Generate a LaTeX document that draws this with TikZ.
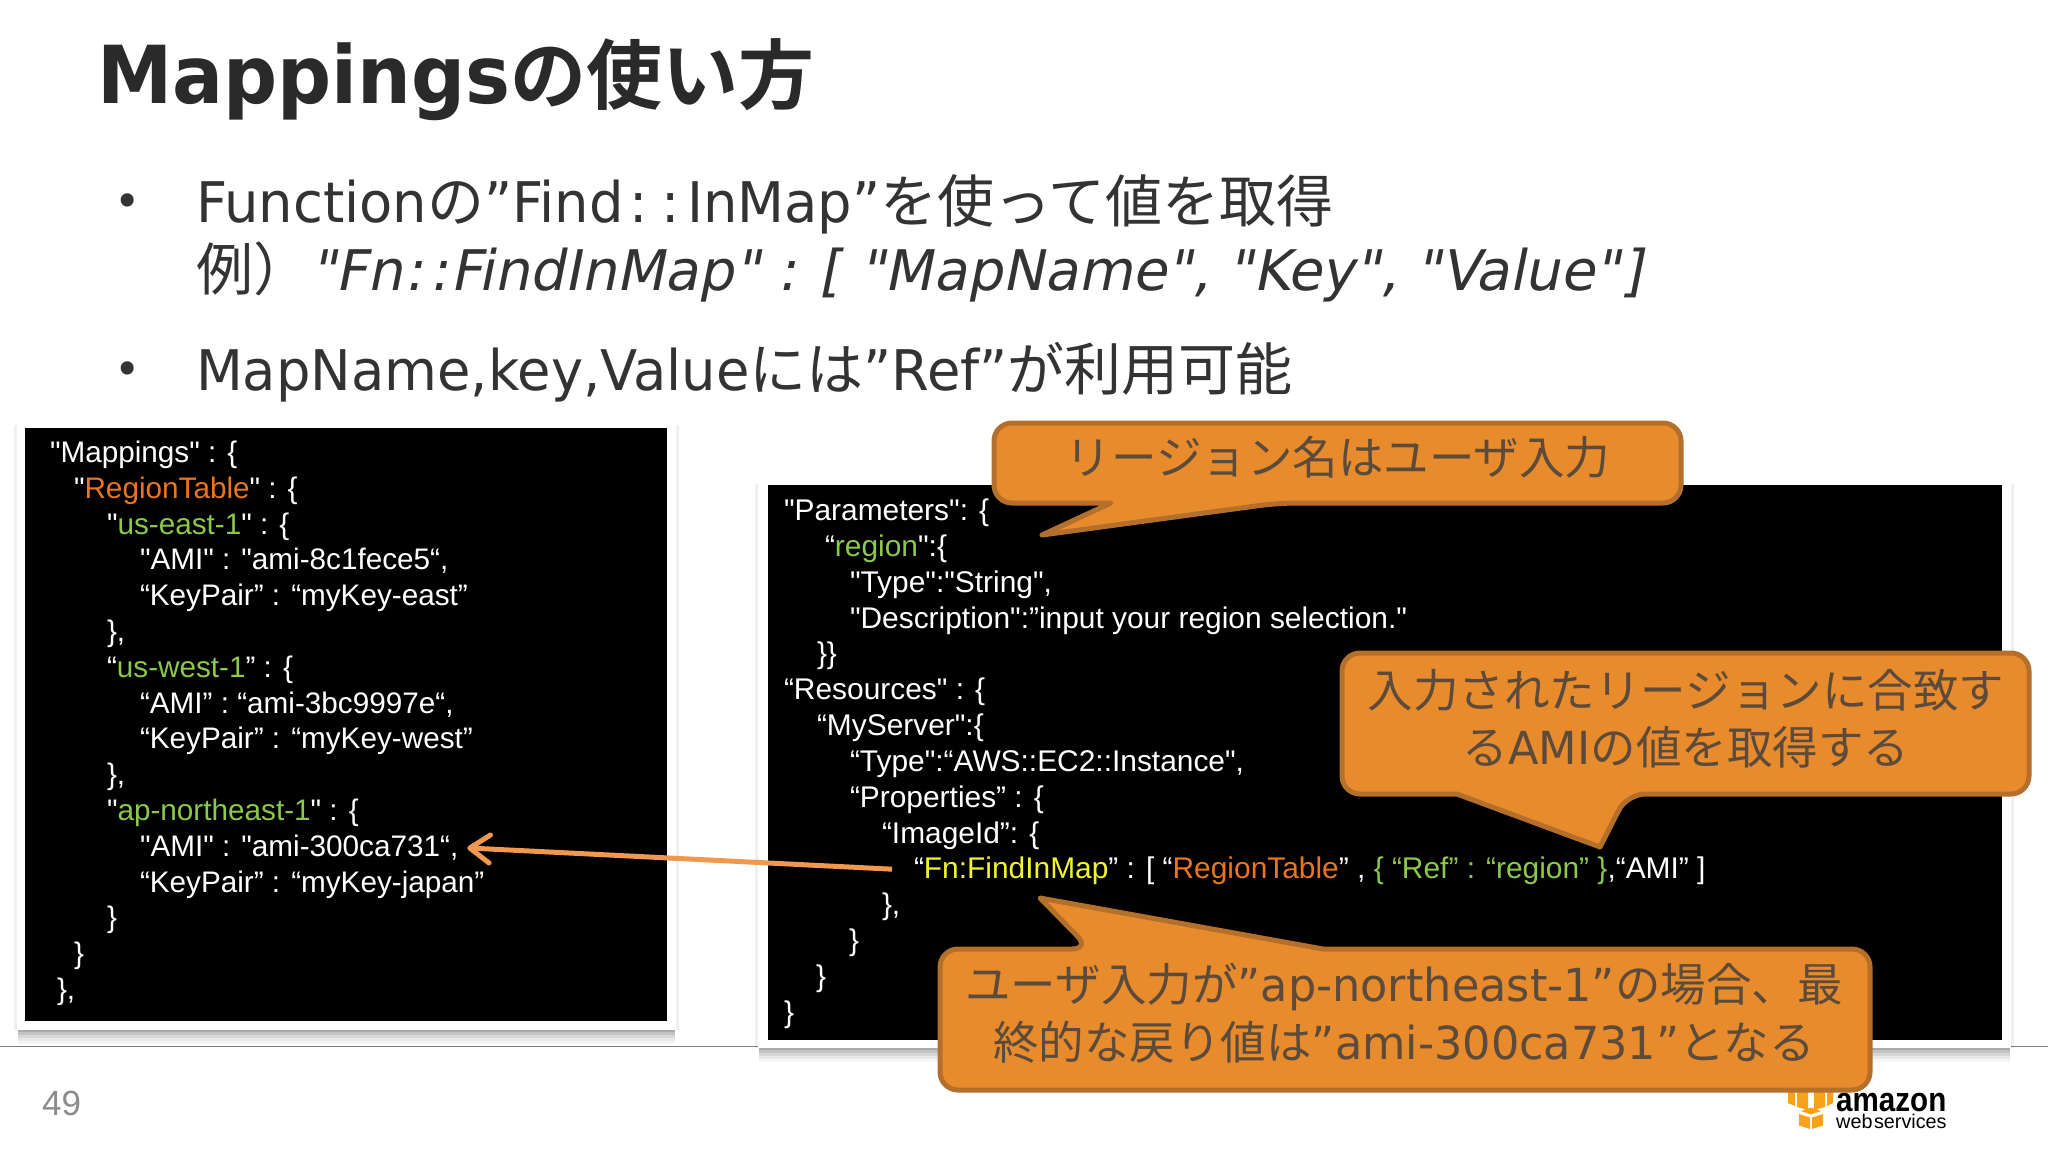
\documentclass[tikz,border=0pt]{standalone}
\usepackage{fontspec}
\usetikzlibrary{arrows.meta,calc}
\setmainfont{Liberation Sans}[Ligatures=TeXOff]
\newfontfamily\jp{Noto Sans CJK JP}
\newfontfamily\jpb{Noto Sans CJK JP Bold}
\newfontfamily\mei[FakeStretch=0.97]{DejaVu Sans}
\newfontfamily\meic[FakeStretch=0.98]{DejaVu Sans}
\newfontfamily\meii[FakeStretch=0.995,FakeSlant=0.2]{DejaVu Sans}
\newfontfamily\meib[FakeStretch=0.945]{DejaVu Sans Bold}
\newfontfamily\logob[FakeStretch=0.87]{Liberation Sans Bold}
\newcommand{\J}[1]{{\jp\fontsize{57}{57}\selectfont #1}}
\definecolor{codeG}{HTML}{8CC84B}
\definecolor{codeO}{HTML}{E8761E}
\definecolor{codeY}{HTML}{F0F52A}
\definecolor{calloutF}{HTML}{E88B2D}
\definecolor{calloutB}{HTML}{B4702A}
\definecolor{calloutT}{HTML}{5C4B3A}
\definecolor{arrowO}{HTML}{F0994E}
\definecolor{titleC}{HTML}{2A2A2A}
\definecolor{bodyC}{HTML}{333333}
\definecolor{logoO}{HTML}{F9A11B}
\tikzset{
  x=1pt,y=-1pt,
  codeline/.style={anchor=base west,inner sep=0pt,outer sep=0pt,text=white,font=\fontsize{29.7}{30}\selectfont},
  codelineR/.style={codeline,font=\fontsize{29.9}{30}\selectfont},
  bodyline/.style={anchor=base west,inner sep=0pt,outer sep=0pt,text=bodyC,font=\mei\fontsize{56}{56}\selectfont},
  bulletmark/.style={anchor=center,inner sep=0pt,text=bodyC,font=\mei\fontsize{46}{46}\selectfont},
  callouttext/.style={anchor=center,inner sep=0pt,text=calloutT,font=\fontsize{45.5}{46}\selectfont},
  calloutshape/.style={fill=calloutF,draw=calloutB,line width=5pt,rounded corners=18pt,line join=round},
  card/.style={fill=white},
}
\newcommand{\G}[1]{\textcolor{codeG}{#1}}
\newcommand{\Or}[1]{\textcolor{codeO}{#1}}
\newcommand{\Y}[1]{\textcolor{codeY}{#1}}
\begin{document}
\begin{tikzpicture}
\useasboundingbox (0,0) rectangle (2048,1152);
\fill[white] (0,0) rectangle (2048,1152);
% separator
\draw[black!50,line width=1pt] (0,1046) -- (2048,1046);
% title
\node[anchor=base west,inner sep=0pt,text=titleC] (title) at (97,103) {\meib\fontsize{80}{80}\selectfont Mappings{\jpb\fontsize{76}{76}\selectfont の使い方}};
% bullets
\node[bulletmark] (b1) at (128,206) {•};
\node[bulletmark] (b2) at (128,374) {•};
\node[bodyline] (l1) at (196,222) {Function\J{の}”Find\hspace{6pt}:\hspace{14pt}:\hspace{7pt}InMap”\J{を使って値を取得}};
\node[bodyline] (l2) at (196,290) {\J{例）}{\meii "Fn\hspace{2pt}:\hspace{6pt}:\hspace{2pt}FindInMap" : [ "MapName", "Key", "Value"]}};
\node[bodyline] (l3) at (196,390) {MapName,key,Value\J{には}”Ref”\J{が利用可能}};
% shadows and cards
\foreach \i/\o in {14/.04,11/.05,8/.07,5/.09,2/.12}{
  \fill[black,opacity=\o] (18,1010) rectangle (675,1030+\i);
  \fill[black,opacity=\o] (759,1030) rectangle (2010,1048+\i);
}
\fill[black,opacity=.06] (14,425) rectangle (679,1030);
\fill[black,opacity=.06] (755,484) rectangle (2014,1048);
\fill[card] (17,421) rectangle (676,1030);
\fill[card] (758,481) rectangle (2011,1048);
\fill[black] (25,428) rectangle (667,1021);
\fill[black] (768,485) rectangle (2002,1040);
% left code
\node[codeline] (m0) at (50,462.5) {"Mappings" : \{};
\node[codeline] (m1) at (74,498.3) {"\Or{RegionTable}" : \{};
\node[codeline] (m2) at (107,534.1) {"\G{us-east-1}" : \{};
\node[codeline] (m3) at (140,569.9) {"AMI" : "ami-8c1fece5“,};
\node[codeline] (m4) at (140,605.7) {“KeyPair” : “myKey-east”};
\node[codeline] (m5) at (107,641.5) {\},};
\node[codeline] (m6) at (107,677.3) {“\G{us-west-1}” : \{};
\node[codeline] (m7) at (140,713.1) {“AMI” : “ami-3bc9997e“,};
\node[codeline] (m8) at (140,748.9) {“KeyPair” : “myKey-west”};
\node[codeline] (m9) at (107,784.7) {\},};
\node[codeline] (m10) at (107,820.5) {"\G{ap-northeast-1}" : \{};
\node[codeline] (m11) at (140,856.3) {"AMI" : "ami-300ca731“,};
\node[codeline] (m12) at (140,892.1) {“KeyPair” : “myKey-japan”};
\node[codeline] (m13) at (107,927.9) {\}};
\node[codeline] (m14) at (74,963.7) {\}};
\node[codeline] (m15) at (57,999.5) {\},};
% right code
\node[codelineR] (r0) at (784,520) {"Parameters": \{};
\node[codelineR] (r1) at (825,556) {“\G{region}":\{};
\node[codelineR] (r2) at (850,592) {"Type":"String",};
\node[codelineR] (r3) at (850,628) {"Description":”input your region selection."};
\node[codelineR] (r4) at (817,663) {\}\}};
\node[codelineR] (r5) at (784,699) {“Resources" : \{};
\node[codelineR] (r6) at (817,735) {“MyServer":\{};
\node[codelineR] (r7) at (850,771) {“Type":“AWS::EC2::Instance",};
\node[codelineR] (r8) at (850,807) {“Properties” : \{};
\node[codelineR] (r9) at (882,843) {“ImageId”: \{};
\node[codelineR] (fn) at (914,878) {“\Y{Fn:FindInMap}” : [ “\Or{RegionTable}” , \G{\{ “Ref” : “region” \}},“AMI” ]};
\node[codelineR] (r11) at (882,914) {\},};
\node[codelineR] (r12) at (849,950) {\}};
\node[codelineR] (r13) at (816,986) {\}};
\node[codelineR] (r14) at (784,1022) {\}};
% arrow
\draw[arrowO,line width=5pt,-{Straight Barb[round,length=20pt,width=28pt]},shorten <=22pt,shorten >=9pt] (fn.west) -- (m11.east);
% logo
\fill[logoO] (1788,1090) -- (1795,1090) -- (1795,1106) -- (1788,1103) -- cycle
  (1797,1090) -- (1808,1090) -- (1808,1110) -- (1797,1107) -- cycle
  (1814,1090) -- (1825,1090) -- (1825,1107) -- (1814,1110) -- cycle
  (1827,1090) -- (1833,1090) -- (1833,1103) -- (1827,1106) -- cycle
  (1801,1111) -- (1811,1107.5) -- (1821,1111) -- (1811,1114.5) -- cycle
  (1799,1114) -- (1810,1117.5) -- (1810,1129) -- (1799,1125.5) -- cycle
  (1823,1114) -- (1812,1117.5) -- (1812,1129) -- (1823,1125.5) -- cycle;
\node[anchor=base west,inner sep=0pt,font=\logob\fontsize{34}{34}\selectfont] (amazon) at (1836,1111) {amazon};
\node[anchor=base west,inner sep=0pt,font=\fontsize{19.8}{20}\selectfont] (ws) at (1836,1128) {web\hspace{1.5pt}services};
% callouts
\draw[calloutshape] (994,423) -- (1681,423) -- (1681,503) -- (1278,503) [sharp corners] -- (1042,535) -- (1111,503) [rounded corners=18pt] -- (994,503) -- cycle;
\node[callouttext] (c1) at (1338,457) {\jp リージョン名はユーザ入力};
\draw[calloutshape] (1342,653) -- (2029,653) -- (2029,794) -- (1627,794) [sharp corners] -- (1600,847) -- (1457,794) [rounded corners=18pt] -- (1342,794) -- cycle;
\node[callouttext] (c2a) at (1686,690) {\jp 入力されたリージョンに合致す};
\node[callouttext] (c2b) at (1686,747) {\jp る{\meic AMI}の値を取得する};
\draw[calloutshape] (940,949) -- (1090,949) [sharp corners] -- (1040,898) -- (1323,949) [rounded corners=18pt] -- (1870,949) -- (1870,1090) -- (940,1090) -- cycle;
\node[callouttext] (c3a) at (1404,987) {\jp ユーザ入力が{\meic ”ap-northeast-1”}の場合、最};
\node[callouttext] (c3b) at (1404,1042) {\jp 終的な戻り値は{\meic ”ami-300ca731”}となる};
% page number
\node[anchor=base west,inner sep=0pt,text=black!45,font=\fontsize{35}{35}\selectfont] (page) at (42,1115) {49};
\end{tikzpicture}
\end{document}
